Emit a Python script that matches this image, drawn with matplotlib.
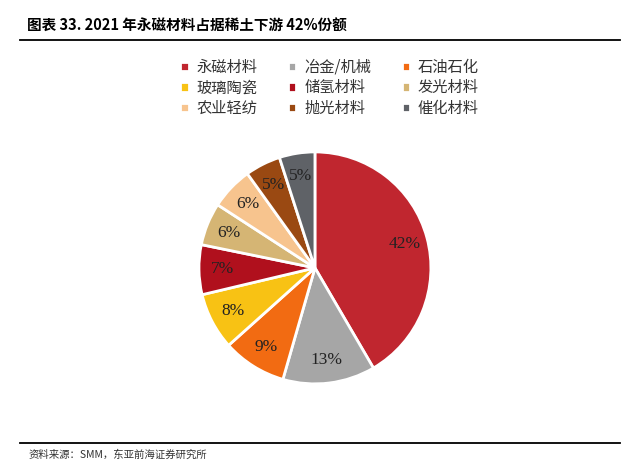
import numpy as np
import matplotlib.pyplot as plt

plt.rcParams['font.family'] = ['Noto Sans CJK SC', 'DejaVu Sans']

# data
categories = ["永磁材料", "冶金/机械", "石油石化", "玻璃陶瓷", "储氢材料",
              "发光材料", "农业轻纺", "抛光材料", "催化材料"]
shares = [42, 13, 9, 8, 7, 6, 6, 5, 5]
labels = ["42%", "13%", "9%", "8%", "7%", "6%", "6%", "5%", "5%"]
colors = ["#C0262F", "#A6A6A6", "#F26B12", "#F8C214", "#B0101D",
          "#D5B574", "#F7C48E", "#9A4912", "#5F6267"]

fig = plt.figure(figsize=(6.4, 4.7), dpi=100)
fig.patch.set_facecolor("white")

# title and rules
fig.text(0.042, 0.947, "图表 33. 2021 年永磁材料占据稀土下游 42%份额",
         fontsize=10.5, fontweight="bold", va="center", ha="left")
fig.add_artist(plt.Line2D([0.031, 0.969], [0.914, 0.914], color="black", lw=1.3))
fig.add_artist(plt.Line2D([0.031, 0.969], [0.057, 0.057], color="black", lw=1.3))
fig.text(0.045, 0.032, "资料来源：SMM，东亚前海证券研究所", fontsize=7.5,
         va="center", ha="left", color="#333333")

ax = fig.add_axes([0.2656, 0.1215, 0.453, 0.617])
wedges, texts = ax.pie(shares, colors=colors, startangle=90, counterclock=False,
                       wedgeprops=dict(edgecolor="white", linewidth=2))
for w, lab in zip(wedges, labels):
    ang = np.deg2rad((w.theta1 + w.theta2) / 2)
    ax.text(0.8 * np.cos(ang), 0.8 * np.sin(ang), lab, ha="center", va="center",
            fontsize=12.5, family=["Liberation Serif"], color="#222222")
ax.set_aspect("equal")

# legend filled row by row, like the reference
ncol = 3
order = [r * ncol + c for c in range(ncol) for r in range(3)]
leg = fig.legend([wedges[i] for i in order], [categories[i] for i in order],
                 loc="center", bbox_to_anchor=(0.515, 0.813),
                 ncol=ncol, frameon=False, fontsize=11, handlelength=0.55,
                 handleheight=0.55, columnspacing=2.0, labelspacing=0.25,
                 handletextpad=0.5)
for t in leg.get_texts():
    t.set_color("#333333")

fig.savefig("out.png", dpi=100)
